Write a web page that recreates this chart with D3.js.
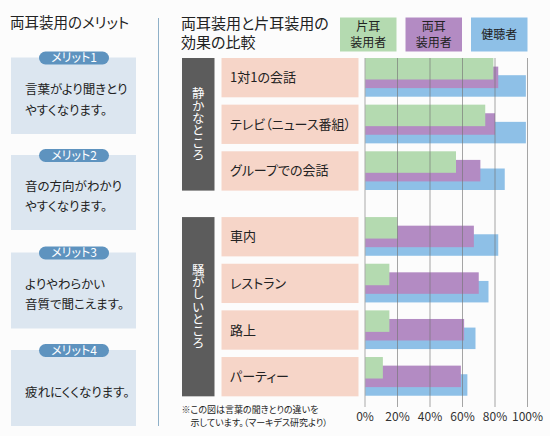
<!DOCTYPE html>
<html><head><meta charset="utf-8">
<script src="https://cdn.jsdelivr.net/npm/d3@7"></script>
<style>
html,body{margin:0;padding:0;background:#fcfcfc;}
svg text{font-family:"Noto Sans CJK JP","Noto Sans",sans-serif;font-feature-settings:"palt";}
svg text.vert{font-feature-settings:normal;writing-mode:vertical-rl;letter-spacing:-0.2px;}
</style></head>
<body><svg id="c" width="550" height="436"></svg>
<script>
// ---- data ----
const leftTitle = "両耳装用のメリット";
const meritLabels = ["メリット1","メリット2","メリット3","メリット4"];
const meritTexts = [["言葉がより聞きとり","やすくなります。"],["音の方向がわかり","やすくなります。"],["よりやわらかい","音質で聞こえます。"],["疲れにくくなります。"]];
const chartTitle = ["両耳装用と片耳装用の","効果の比較"];
const categories = ["1対1の会話","テレビ（ニュース番組）","グループでの会話","車内","レストラン","路上","パーティー"];
const groupNames = ["静かなところ","騒がしいところ"];
const groupSizes = [3,4];
const seriesNames = [["片耳","装用者"],["両耳","装用者"],["健聴者"]];
const oneEar  = [79,74,56,20,15,15,11];
const bothEars = [82,80,71,67,70,61,59];
const normalHearing = [99,99,86,82,76,68,63];
const ticks = [0,20,40,60,80,100];
const footnote = ["※この図は言葉の聞きとりの違いを","示しています。（マーキデス研究より）"];
const colors = ["#b4dab0","#b38bc3","#8ec0e7"];

const svg = d3.select("#c");

// ---- left panel ----
svg.append("text").attr("x",10).attr("y",28).attr("font-size",14.5).attr("fill","#222").text(leftTitle);
svg.append("line").attr("x1",158.5).attr("x2",158.5).attr("y1",18).attr("y2",426).attr("stroke","#8fb0c8").attr("stroke-width",1);
const boxTops = [57.5,155,252.5,350];
const boxHeights = [76.5,75,76,76];
meritLabels.forEach((m,i)=>{
  const g = svg.append("g");
  g.append("rect").attr("x",11).attr("y",boxTops[i]).attr("width",125).attr("height",boxHeights[i]).attr("fill","#dce6f0");
  g.append("rect").attr("x",39).attr("y",boxTops[i]-6).attr("width",70).attr("height",13).attr("rx",6.5).attr("fill","#5e93bf");
  g.append("text").attr("x",74).attr("y",boxTops[i]+4.8).attr("text-anchor","middle").attr("font-size",12).attr("fill","#fff").text(m);
  const lines = meritTexts[i];
  const mid = boxTops[i] + boxHeights[i]/2 + 4;
  lines.forEach((t,j)=>{
    const y = lines.length===1 ? mid : mid + (j-0.5)*20.5;
    g.append("text").attr("x",25).attr("y",y+4.5).attr("font-size",12.5).attr("fill","#222").text(t);
  });
});

// ---- right chart ----
chartTitle.forEach((t,j)=>{
  svg.append("text").attr("x",181).attr("y",29+j*19).attr("font-size",15).attr("fill","#222").text(t);
});

const x = d3.scaleLinear().domain([0,100]).range([365,527.5]);
// row slot scale (gap between the two groups)
const slot = i => i + (i>=groupSizes[0] ? 0.41 : 0);
const y = d3.scaleLinear().domain([0,1]).range([58,104.65]);
const rowH = 39.3, barH = 21.5, barOff = 8.6;

// legend
const legX = [340,405.5,471];
seriesNames.forEach((s,i)=>{
  svg.append("rect").attr("x",legX[i]).attr("y",17.5).attr("width",56.5).attr("height",34).attr("fill",colors[i]);
  s.forEach((t,j)=>{
    const ty = s.length===1 ? 34.5 : 34.5 + (j-0.5)*16;
    svg.append("text").attr("x",legX[i]+28.25).attr("y",ty+4.3).attr("text-anchor","middle").attr("font-size",12).attr("fill","#222").text(t);
  });
});

// group boxes
let start = 0;
groupNames.forEach((g,gi)=>{
  const y0 = y(slot(start)), y1 = y(slot(start+groupSizes[gi]-1)) + rowH;
  svg.append("rect").attr("x",182).attr("y",y0).attr("width",32.5).attr("height",y1-y0).attr("fill","#5c5c5c");
  svg.append("text").attr("class","vert").attr("x",198.3).attr("y",(y0+y1)/2)
    .attr("text-anchor","middle").attr("font-size",12.5).attr("fill","#fff").text(g);
  start += groupSizes[gi];
});

// category boxes
categories.forEach((c,i)=>{
  const yy = y(slot(i));
  svg.append("rect").attr("x",221.5).attr("y",yy).attr("width",137).attr("height",rowH).attr("fill","#f6d5c8");
  svg.append("text").attr("x",230).attr("y",yy+rowH/2+4.5).attr("font-size",13).attr("fill","#222").text(c);
});

// bars
const series = [normalHearing,bothEars,oneEar];
const offs = [2*barOff,barOff,0];
const cols = [colors[2],colors[1],colors[0]];
series.forEach((vals,si)=>{
  svg.append("g").selectAll("rect").data(vals).join("rect")
    .attr("x",x(0)).attr("y",(d,i)=>y(slot(i))+offs[si])
    .attr("width",d=>x(d)-x(0)).attr("height",barH).attr("fill",cols[si]);
});

// grid lines
svg.append("g").selectAll("line").data(ticks).join("line")
  .attr("x1",d=>x(d)).attr("x2",d=>x(d)).attr("y1",58).attr("y2",407)
  .attr("stroke",d=>d===0?"#aaa":"#777").attr("stroke-opacity",d=>d===0?1:0.65).attr("stroke-width",1);

// tick labels
svg.append("g").selectAll("text").data(ticks).join("text")
  .attr("x",d=>x(d)).attr("y",421).attr("text-anchor","middle").attr("font-size",12).attr("fill","#333")
  .text(d=>d+"%");

// footnote
svg.append("text").attr("x",181.5).attr("y",413.2).attr("font-size",9).attr("fill","#222").text(footnote[0]);
svg.append("text").attr("x",190.5).attr("y",426).attr("font-size",9).attr("fill","#222").text(footnote[1]);
</script></body></html>
